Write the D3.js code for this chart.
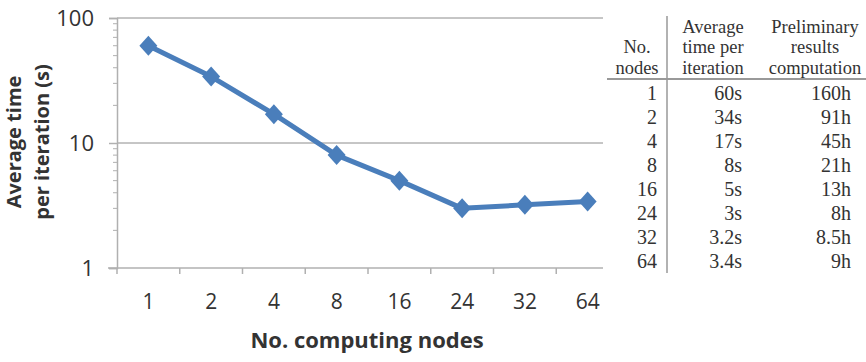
<!DOCTYPE html>
<html><head><meta charset="utf-8">
<script src="https://cdn.jsdelivr.net/npm/d3@7"></script>
<style>body{margin:0;background:#fff}svg{display:block}</style>
</head><body>
<svg id="c" width="866" height="362"></svg>
<script>
const nodes = ["1","2","4","8","16","24","32","64"];
const avgTime = [60, 34, 17, 8, 5, 3, 3.2, 3.4];
const yTicks = [1, 10, 100];
const tableHeaders = [["No.","nodes"],["Average","time per","iteration"],["Preliminary","results","computation"]];
const colNodes = ["1","2","4","8","16","24","32","64"];
const colAvg = ["60s","34s","17s","8s","5s","3s","3.2s","3.4s"];
const colPrelim = ["160h","91h","45h","21h","13h","8h","8.5h","9h"];

const svg = d3.select("#c");
const L = 117, R = 619, T = 18, B = 268, gridEnd = 603;
const x = d3.scaleBand().domain(nodes).range([L, R]);
const y = d3.scaleLog().domain([1, 100]).range([B, T]);
const sans = '"Open Sans", sans-serif';
const serif = '"Liberation Serif"';

// gridlines
svg.append("g").selectAll("line").data(yTicks.slice(1)).join("line")
  .attr("x1", L).attr("x2", gridEnd).attr("y1", d => y(d)).attr("y2", d => y(d))
  .attr("stroke", "#8c8c8c").attr("stroke-width", 1);

// y axis
const yAxis = svg.append("g").attr("transform", `translate(${L},0)`)
  .call(d3.axisLeft(y).tickValues(yTicks).tickFormat(d3.format("d")).tickSize(8).tickPadding(15));
yAxis.select(".domain").attr("stroke", "#b0b0b0").attr("stroke-width", 1.5);
yAxis.selectAll(".tick line").attr("stroke", "#b0b0b0").attr("stroke-width", 1.5);
yAxis.selectAll(".tick text").style("font-family", sans).attr("font-size", 22).attr("fill", "#333");
const minor = [];
[1, 10].forEach(b => { for (let k = 2; k <= 9; k++) minor.push(b * k); });
svg.append("g").selectAll("line").data(minor).join("line")
  .attr("x1", L - 4).attr("x2", L).attr("y1", d => y(d)).attr("y2", d => y(d))
  .attr("stroke", "#b0b0b0").attr("stroke-width", 1);

// x axis
const xAxis = svg.append("g").attr("transform", `translate(0,${B})`)
  .call(d3.axisBottom(x).tickSize(0).tickPadding(26));
xAxis.select(".domain").remove();
svg.append("line").attr("x1", L - 9).attr("x2", gridEnd).attr("y1", B).attr("y2", B)
  .attr("stroke", "#b0b0b0").attr("stroke-width", 1.5);
svg.append("g").selectAll("line").data(nodes).join("line")
  .attr("x1", d => x(d)).attr("x2", d => x(d)).attr("y1", B).attr("y2", B + 6)
  .attr("stroke", "#b0b0b0").attr("stroke-width", 1.5);
xAxis.selectAll(".tick text").style("font-family", sans).attr("font-size", 21).attr("fill", "#333");

// titles
svg.append("text").attr("x", 367).attr("y", 348).attr("text-anchor", "middle")
  .style("font-family", sans).attr("font-weight", "bold").attr("font-size", 22).attr("fill", "#333")
  .text("No. computing nodes");
const yt = svg.append("text").attr("transform", "translate(0,142) rotate(-90)")
  .attr("text-anchor", "middle").style("font-family", sans).attr("font-weight", "bold")
  .attr("font-size", 20).attr("fill", "#333");
yt.append("tspan").attr("x", 0).attr("y", 21).text("Average time");
yt.append("tspan").attr("x", 0).attr("y", 49).text("per iteration (s)");

// line
const cx = d => x(d) + x.bandwidth() / 2;
svg.append("path").datum(nodes.map((n, i) => [n, avgTime[i]]))
  .attr("fill", "none").attr("stroke", "#4a7ebb").attr("stroke-width", 5).attr("stroke-linejoin", "round")
  .attr("d", d3.line().x(d => cx(d[0])).y(d => y(d[1])));
svg.append("g").selectAll("path").data(nodes.map((n, i) => [n, avgTime[i]])).join("path")
  .attr("d", "M0,-10L9,0L0,10L-9,0Z").attr("fill", "#4a7ebb")
  .attr("transform", d => `translate(${cx(d[0])},${y(d[1])})`);

// table
svg.append("rect").attr("x", 604).attr("y", 0).attr("width", 262).attr("height", 362).attr("fill", "#fff");
svg.append("line").attr("x1", 607).attr("x2", 866).attr("y1", 79).attr("y2", 79).attr("stroke", "#777").attr("stroke-width", 1.5);
svg.append("line").attr("x1", 667).attr("x2", 667).attr("y1", 16).attr("y2", 273).attr("stroke", "#999").attr("stroke-width", 1.5);
const hx = [637, 713, 815];
const hy = [[48, 69], [28, 48, 69], [28, 48, 69]];
tableHeaders.forEach((lines, c) => {
  lines.forEach((t, j) => {
    svg.append("text").style("font-family", serif).attr("x", hx[c]).attr("y", hy[c][j] + 5).attr("text-anchor", "middle")
      .attr("font-size", 18.5).attr("fill", "#333").text(t);
  });
});
const rowY = d3.scalePoint().domain(d3.range(colNodes.length)).range([93, 261]);
const cols = [[colNodes, 657], [colAvg, 742], [colPrelim, 851]];
cols.forEach(([arr, xr]) => {
  svg.append("g").selectAll("text").data(arr).join("text").style("font-family", serif)
    .attr("x", xr).attr("y", (d, i) => rowY(i) + 7).attr("text-anchor", "end")
    .attr("font-size", 20).attr("fill", "#333").text(d => d);
});
</script>
</body></html>
